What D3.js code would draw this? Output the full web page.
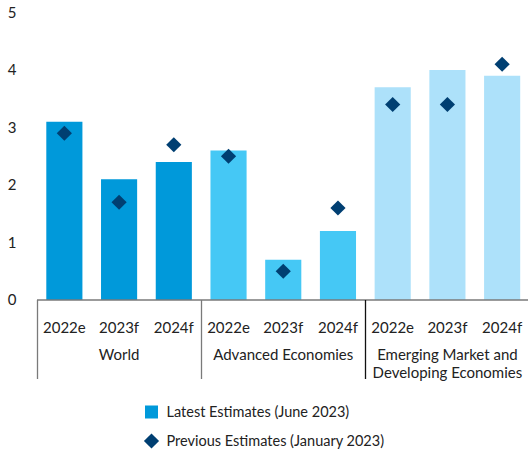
<!DOCTYPE html>
<html><head><meta charset="utf-8">
<script src="https://cdn.jsdelivr.net/npm/d3@7"></script>
<style>
body{margin:0;background:#fff;}
text{font-family:Lato,"Open Sans",sans-serif;fill:#222;}
</style></head>
<body><svg id="c" width="528" height="452"></svg>
<script>
const groups = ["World","Advanced Economies","Emerging Market and\nDeveloping Economies"];
const years = ["2022e","2023f","2024f"];
const latest = [3.1,2.1,2.4, 2.6,0.7,1.2, 3.7,4.0,3.9];
const previous = [2.9,1.7,2.7, 2.5,0.5,1.6, 3.4,3.4,4.1];
const groupColors = ["#0099DA","#45C8F5","#ADE1FA"];
const yTicks = [0,1,2,3,4,5];
const legendLabels = ["Latest Estimates (June 2023)","Previous Estimates (January 2023)"];

const items = [];
groups.forEach((g,gi)=>years.forEach((yr,yi)=>items.push({key:gi+"-"+yr,g:gi,yr,latest:latest[gi*3+yi],prev:previous[gi*3+yi]})));

const svg = d3.select("#c");
const x = d3.scaleBand().domain(items.map(d=>d.key)).range([37,529.5]).paddingInner(0.34).paddingOuter(0.17);
const y = d3.scaleLinear().domain([0,5]).range([300,12.5]);

// y labels
svg.append("g").selectAll("text").data(yTicks).join("text")
  .attr("x",12).attr("y",d=>y(d)).attr("dy","0.35em").attr("text-anchor","middle")
  .style("font-size","15px").text(d=>d);

// bars
svg.append("g").selectAll("rect").data(items).join("rect")
  .attr("x",d=>x(d.key)).attr("width",x.bandwidth())
  .attr("y",d=>y(d.latest)).attr("height",d=>y(0)-y(d.latest))
  .attr("fill",d=>groupColors[d.g]);

// axis line
svg.append("line").attr("x1",37).attr("x2",528).attr("y1",y(0)).attr("y2",y(0))
  .attr("stroke","#7a7a7a").attr("stroke-width",1.5);

// separators
const seps = [0,3,6].map((i,k)=>({x: k===0 ? 37 : (x(items[i-1].key)+x.bandwidth()+x(items[i].key))/2, c: k===2?"#111":"#7a7a7a"}));
svg.append("g").selectAll("line").data(seps).join("line")
  .attr("x1",d=>Math.round(d.x)+0.5).attr("x2",d=>Math.round(d.x)+0.5)
  .attr("y1",y(0)).attr("y2",379).attr("stroke",d=>d.c).attr("stroke-width",1.3);

// diamonds
const dsz = 7.6;
const diamond = `M0,${-dsz}L${dsz},0L0,${dsz}L${-dsz},0Z`;
svg.append("g").selectAll("path").data(items).join("path")
  .attr("transform",d=>`translate(${x(d.key)+x.bandwidth()/2},${y(d.prev)})`)
  .attr("d",diamond).attr("fill","#003F72");

// year labels
svg.append("g").selectAll("text").data(items).join("text")
  .attr("x",d=>x(d.key)+x.bandwidth()/2).attr("y",328).attr("dy","0.35em")
  .attr("text-anchor","middle").style("font-size","15px").text(d=>d.yr);

// group labels
groups.forEach((g,gi)=>{
  const cx = (x(items[gi*3].key)+x(items[gi*3+2].key)+x.bandwidth())/2;
  g.split("\n").forEach((line,li)=>{
    svg.append("text").attr("x",cx).attr("y",355+li*17.5).attr("dy","0.35em")
      .attr("text-anchor","middle").style("font-size","15px").text(line);
  });
});

// legend
const lg = svg.append("g");
lg.append("rect").attr("x",145).attr("y",405.5).attr("width",13).attr("height",13).attr("fill",groupColors[0]);
lg.append("text").attr("x",166.5).attr("y",412).attr("dy","0.35em").style("font-size","14.5px").text(legendLabels[0]);
lg.append("path").attr("transform","translate(151.5,441)").attr("d",diamond).attr("fill","#003F72");
lg.append("text").attr("x",166.5).attr("y",441).attr("dy","0.35em").style("font-size","14.5px").text(legendLabels[1]);
</script></body></html>
